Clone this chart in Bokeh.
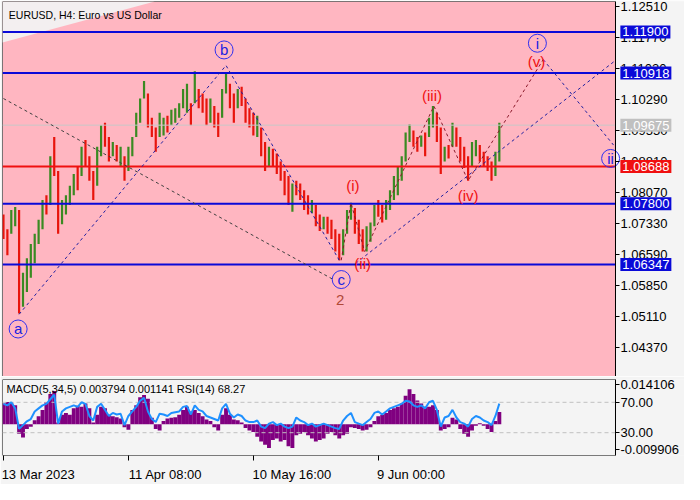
from bokeh.plotting import figure
from bokeh.models import Range1d, FixedTicker, Label, NumeralTickFormatter
from bokeh.layouts import column
from bokeh.embed import file_html
from bokeh.resources import INLINE
from bokeh.core.properties import value

FONT = "Liberation Sans"

# ---------------- data ----------------
title_text = "EURUSD, H4:  Euro vs US Dollar"
ind_text = "MACD(5,34,5) 0.003794 0.001141 RSI(14) 68.27"

# H4 bar index (one sample drawn every 4 bars)
bar_x = list(range(0, 509, 4))

bar_high = [
    1.0754, 1.0719, 1.0765, 1.0772, 1.0765, 1.0615, 1.0650, 1.0684,
    1.0708, 1.0742, 1.0789, 1.0800, 1.0893, 1.0939, 1.0858, 1.0789,
    1.0800, 1.0823, 1.0851, 1.0869, 1.0916, 1.0932, 1.0893, 1.0858,
    1.0916, 1.0967, 1.0973, 1.0939, 1.0927, 1.0920, 1.0916, 1.0893,
    1.0916, 1.0939, 1.0997, 1.1031, 1.1073, 1.1043, 1.0985, 1.0962,
    1.0997, 1.0985, 1.0990, 1.1004, 1.1008, 1.1020, 1.1054, 1.1066,
    1.1020, 1.1096, 1.1054, 1.1043, 1.1031, 1.1031, 1.1013, 1.0997,
    1.1054, 1.1094, 1.1066, 1.1043, 1.1054, 1.1059, 1.1031, 1.1008,
    1.0997, 1.0990, 1.0962, 1.0927, 1.0916, 1.0911, 1.0900, 1.0881,
    1.0858, 1.0846, 1.0828, 1.0835, 1.0828, 1.0812, 1.0800, 1.0789,
    1.0777, 1.0754, 1.0749, 1.0749, 1.0742, 1.0719, 1.0708, 1.0719,
    1.0765, 1.0782, 1.0770, 1.0742, 1.0719, 1.0726, 1.0735, 1.0777,
    1.0789, 1.0777, 1.0789, 1.0812, 1.0846, 1.0869, 1.0893, 1.0950,
    1.0969, 1.0955, 1.0939, 1.0943, 1.0950, 1.0985, 1.1013, 1.0997,
    1.0962, 1.0916, 1.0920, 1.0973, 1.0962, 1.0939, 1.0916, 1.0893,
    1.0927, 1.0932, 1.0920, 1.0904, 1.0893, 1.0881, 1.0904, 1.0973,
]
bar_low = [
    1.0696, 1.0657, 1.0708, 1.0726, 1.0518, 1.0534, 1.0569, 1.0603,
    1.0638, 1.0684, 1.0719, 1.0754, 1.0777, 1.0846, 1.0708, 1.0731,
    1.0754, 1.0777, 1.0800, 1.0812, 1.0846, 1.0869, 1.0835, 1.0789,
    1.0823, 1.0893, 1.0916, 1.0881, 1.0893, 1.0881, 1.0869, 1.0835,
    1.0858, 1.0893, 1.0939, 1.0973, 1.1031, 1.0962, 1.0939, 1.0904,
    1.0939, 1.0943, 1.0950, 1.0967, 1.0973, 1.0985, 1.1008, 1.0997,
    1.0967, 1.1020, 1.1008, 1.0997, 1.0967, 1.0973, 1.0962, 1.0939,
    1.0985, 1.1043, 1.1008, 1.0973, 1.1008, 1.1013, 1.0973, 1.0962,
    1.0943, 1.0939, 1.0893, 1.0858, 1.0869, 1.0869, 1.0851, 1.0835,
    1.0800, 1.0777, 1.0761, 1.0800, 1.0789, 1.0765, 1.0754, 1.0758,
    1.0726, 1.0715, 1.0719, 1.0708, 1.0696, 1.0666, 1.0645, 1.0657,
    1.0708, 1.0742, 1.0708, 1.0684, 1.0666, 1.0666, 1.0689, 1.0726,
    1.0749, 1.0735, 1.0742, 1.0765, 1.0789, 1.0800, 1.0835, 1.0881,
    1.0927, 1.0916, 1.0904, 1.0916, 1.0893, 1.0939, 1.0962, 1.0927,
    1.0851, 1.0881, 1.0888, 1.0916, 1.0916, 1.0881, 1.0865, 1.0835,
    1.0869, 1.0893, 1.0881, 1.0869, 1.0858, 1.0835, 1.0846, 1.0881,
]
bar_up = [
    0, 0, 1, 1, 0, 1, 1, 1,
    1, 1, 1, 0, 1, 0, 0, 1,
    1, 1, 1, 0, 1, 0, 0, 0,
    1, 1, 0, 0, 1, 0, 1, 0,
    1, 1, 1, 1, 1, 0, 0, 0,
    1, 1, 0, 1, 1, 1, 1, 1,
    0, 1, 0, 0, 0, 1, 0, 0,
    1, 1, 0, 0, 1, 0, 0, 0,
    0, 1, 0, 0, 1, 0, 0, 0,
    0, 0, 1, 0, 0, 0, 0, 1,
    0, 0, 1, 0, 0, 0, 0, 1,
    1, 1, 0, 0, 0, 1, 1, 1,
    0, 0, 1, 1, 1, 1, 1, 1,
    1, 0, 0, 1, 0, 1, 1, 0,
    0, 1, 0, 1, 0, 0, 0, 0,
    1, 1, 0, 0, 0, 0, 1, 1,
]

macd_hist = [
    0.0065, 0.0070, 0.0068, 0.0060, -0.0030, -0.0042, -0.0015, -0.0008,
    0.0012, 0.0025, 0.0045, 0.0070, 0.0095, 0.0105, 0.0005, 0.0030,
    0.0035, 0.0030, 0.0050, 0.0058, 0.0055, 0.0065, 0.0050, 0.0005,
    0.0030, 0.0055, 0.0050, 0.0030, 0.0025, 0.0022, 0.0018, -0.0010,
    -0.0018, 0.0045, 0.0060, 0.0085, 0.0092, 0.0080, 0.0020, -0.0015,
    -0.0020, 0.0010, 0.0018, 0.0020, 0.0022, 0.0030, 0.0045, 0.0055,
    0.0040, 0.0045, 0.0035, 0.0025, 0.0015, 0.0010, -0.0010, -0.0020,
    0.0030, 0.0050, 0.0030, 0.0015, 0.0012, 0.0005, -0.0012, -0.0020,
    -0.0025, -0.0040, -0.0055, -0.0065, -0.0075, -0.0050, -0.0045, -0.0055,
    -0.0050, -0.0070, -0.0075, -0.0035, -0.0030, -0.0025, -0.0035, -0.0045,
    -0.0055, -0.0050, -0.0045, -0.0030, -0.0025, -0.0035, -0.0045, -0.0035,
    -0.0030, -0.0010, -0.0012, -0.0015, -0.0020, -0.0018, -0.0010, 0.0010,
    0.0025, 0.0030, 0.0035, 0.0045, 0.0050, 0.0055, 0.0065, 0.0090,
    0.0110, 0.0095, 0.0075, 0.0065, 0.0055, 0.0055, 0.0060, 0.0045,
    -0.0020, -0.0015, -0.0010, 0.0020, 0.0015, -0.0015, -0.0030, -0.0040,
    -0.0020, -0.0005, 0.0003, -0.0005, -0.0015, -0.0025, 0.0010, 0.0038,
]
rsi = [
    68, 66, 70, 62, 35, 40, 45, 48,
    58, 62, 66, 68, 74, 80, 42, 58,
    62, 64, 66, 64, 70, 68, 52, 46,
    64, 68, 60, 52, 56, 54, 55, 40,
    52, 58, 64, 72, 76, 58, 48, 44,
    55, 54, 52, 56, 57, 58, 64, 65,
    54, 66, 60, 58, 52, 50, 48, 46,
    62, 68, 55, 50, 54, 52, 46, 44,
    44, 46, 38, 36, 42, 44, 40, 42,
    38, 36, 38, 50, 46, 44, 40, 42,
    38, 40, 42, 40, 38, 36, 35, 46,
    52, 56, 44, 42, 40, 44, 48, 56,
    58, 54, 58, 62, 64, 66, 68, 72,
    71, 66, 64, 66, 62, 70, 72, 60,
    38, 50, 52, 60, 50, 44, 42, 38,
    48, 52, 50, 46, 44, 40, 52, 68.27,
]

price_ticks = [1.12510, 1.11770, 1.11030, 1.10290, 1.09550, 1.08810,
               1.08070, 1.07330, 1.06590, 1.05850, 1.05110, 1.04370]

level_values = [1.11900, 1.10918, 1.07800, 1.06347]
level_labels = ["1.11900", "1.10918", "1.07800", "1.06347"]
support_value = 1.08688
support_label = "1.08688"
current_value = 1.09675
current_label = "1.09675"

rsi_levels = [70, 30]
ind_tick_pos = [92.8, 70, 30, 8.4]
ind_tick_labels = ["0.014106", "70.00", "30.00", "-0.009906"]

date_tick_bars = [0, 128, 256, 384]
date_tick_labels = ["13 Mar 2023", "11 Apr 08:00", "10 May 16:00", "9 Jun 00:00"]
# label centres (labels are written to the right of their tick)
date_label_pos = [35.5, 166.0, 295.5, 417.5]

# Elliott wave paths (bar index, price)
abc_x = [16, 228, 344]
abc_y = [1.0516, 1.1110, 1.0645]
trend_x = [0, 338]
trend_y = [1.1031, 1.0599]
channel_x = [361, 627]
channel_y = [1.0638, 1.1122]
sub_x = [346, 356, 370, 441, 476, 553]
sub_y = [1.0645, 1.0782, 1.0666, 1.1013, 1.0835, 1.1124]
fore_x = [553, 625]
fore_y = [1.1124, 1.0920]

circ_x = [15, 226, 346, 547, 622]
circ_y = [1.0481, 1.1147, 1.0599, 1.1163, 1.0888]
circ_txt = ["a", "b", "c", "i", "ii"]

sub_lab_x = [358, 368, 439, 476, 546]
sub_lab_y = [1.0823, 1.0638, 1.1038, 1.0800, 1.1119]
sub_lab_txt = ["(i)", "(ii)", "(iii)", "(iv)", "(v)"]

deg_x = [345]
deg_y = [1.0550]
deg_txt = ["2"]

# ---------------- styling ----------------
W = 684
H1 = 376
H2 = 108
X0, X1 = -1, 627          # chart area in bars
XEND = 697.7              # right end incl. price-scale area
P_LO, P_HI = 1.03676, 1.12626
PINK = "#FFB6C1"
BG = "#F4F4F4"
BLUE = "#0A0AD8"
RED = "#F01010"


def style_axis(ax):
    ax.major_label_text_font = FONT
    ax.major_label_text_font_size = "13px"
    ax.major_label_text_color = "black"
    ax.major_tick_out = 4
    ax.major_tick_in = 0
    ax.minor_tick_out = 0
    ax.minor_tick_in = 0
    ax.major_label_standoff = 1
    ax.axis_line_color = "black"


p = figure(width=W, height=H1, output_backend="svg", toolbar_location=None,
           x_range=Range1d(X0, XEND), y_range=Range1d(P_LO, P_HI),
           x_axis_location=None, y_axis_location="right",
           min_border_left=2, min_border_right=0, min_border_top=1, min_border_bottom=0,
           background_fill_color=BG, border_fill_color=BG, outline_line_color=None)
p.grid.visible = False
ya = p.yaxis[0]
ya.fixed_location = X1
ya.ticker = FixedTicker(ticks=price_ticks)
ya.formatter = NumeralTickFormatter(format="0.00000")
style_axis(ya)

# chart area
p.quad(left=[X0], right=[X1], bottom=[P_LO], top=[P_HI], fill_color=PINK,
       line_color="black", line_width=1)
# light corner of the chart background
p.patch([X0, 155, X0], [P_HI, P_HI, 1.1165], fill_color="#F3EFF0", line_color=None)

# price bars
bar_colors = ["#3A8A22" if u else "#E8140C" for u in bar_up]
p.segment(x0=bar_x, y0=bar_low, x1=bar_x, y1=bar_high, line_color=bar_colors, line_width=2.2)

# horizontal levels
p.segment(x0=[X0], x1=[X1], y0=[current_value], y1=[current_value],
          line_color="#C8C8C8", line_width=1)
p.segment(x0=[X0] * len(level_values), x1=[X1] * len(level_values),
          y0=level_values, y1=level_values, line_color=BLUE, line_width=2)
p.segment(x0=[X0], x1=[X1], y0=[support_value], y1=[support_value],
          line_color=RED, line_width=2)

# wave lines
p.line(trend_x, trend_y, line_color="#404040", line_dash="3 3", line_width=1)
p.line(abc_x, abc_y, line_color="#2020A0", line_dash="3 3", line_width=1)
p.line(channel_x, channel_y, line_color="#2020A0", line_dash="3 3", line_width=1)
p.line(sub_x, sub_y, line_color="#8B1A2B", line_dash="3 3", line_width=1)
p.line(fore_x, fore_y, line_color="#2020A0", line_dash="3 3", line_width=1)

# wave labels
p.scatter(circ_x, circ_y, marker="circle", size=18, fill_color=None,
          line_color="#3030F0", line_width=1)
p.text(circ_x, circ_y, text=circ_txt, text_align="center", text_baseline="middle",
       text_font=value(FONT), text_font_size="15px", text_color="#2020E0")
p.text(sub_lab_x, sub_lab_y, text=sub_lab_txt, text_align="center", text_baseline="middle",
       text_font=value(FONT), text_font_size="15px", text_color=RED)
p.text(deg_x, deg_y, text=deg_txt, text_align="center", text_baseline="middle",
       text_font=value(FONT), text_font_size="15px", text_color="#B04838")

p.add_layout(Label(x=5.5, y=1.1230, text=title_text, text_font=FONT, text_font_size="10.5px",
                   text_color="black", text_baseline="middle", text_align="left"))

# price boxes on the axis
for v, t in zip(level_values, level_labels):
    p.add_layout(Label(x=632, y=v, text=t, text_font=FONT, text_font_size="13px",
                       text_color="white", background_fill_color=BLUE,
                       text_baseline="middle", text_align="left", padding=2))
p.add_layout(Label(x=632, y=support_value, text=support_label, text_font=FONT,
                   text_font_size="13px", text_color="white", background_fill_color=RED,
                   text_baseline="middle", text_align="left", padding=2))
p.add_layout(Label(x=632, y=current_value, text=current_label, text_font=FONT,
                   text_font_size="13px", text_color="white", background_fill_color="#C0C0C0",
                   text_baseline="middle", text_align="left", padding=2))

# ---------------- indicator panel ----------------
q = figure(width=W, height=H2, output_backend="svg", toolbar_location=None,
           x_range=p.x_range, y_range=Range1d(0, 100), y_axis_location="right",
           min_border_left=2, min_border_right=0, min_border_top=3, min_border_bottom=24,
           background_fill_color=BG, border_fill_color=BG, outline_line_color=None)
q.grid.visible = False
q.extra_y_ranges = {"macd": Range1d(-0.009906, 0.014106)}

q.quad(left=[X0], right=[X1], bottom=[0], top=[100], fill_color=BG,
       line_color="black", line_width=1)
q.vbar(x=bar_x, top=macd_hist, bottom=0, width=4, y_range_name="macd",
       fill_color="#800080", line_color=None)
q.segment(x0=[X0] * 2, x1=[X1] * 2, y0=rsi_levels, y1=rsi_levels,
          line_color="#C0C0C0", line_dash="4 3", line_width=1)
q.line(bar_x, rsi, line_color="#1E90FF", line_width=2)

qa = q.yaxis[0]
qa.fixed_location = X1
qa.ticker = FixedTicker(ticks=ind_tick_pos)
qa.major_label_overrides = {k: t for k, t in zip(ind_tick_pos, ind_tick_labels)}
style_axis(qa)

xa = q.xaxis[0]
xa.ticker = FixedTicker(ticks=date_label_pos, minor_ticks=date_tick_bars)
xa.major_label_overrides = {k: t for k, t in zip(date_label_pos, date_tick_labels)}
xa.major_label_text_font = FONT
xa.major_label_text_font_size = "13px"
xa.major_label_text_color = "black"
xa.major_tick_out = 0
xa.major_tick_in = 0
xa.minor_tick_out = 5
xa.minor_tick_in = 0
xa.minor_tick_line_color = "black"
xa.major_label_standoff = 6
xa.axis_line_color = None

q.add_layout(Label(x=3, y=88, text=ind_text, text_font=FONT, text_font_size="11px",
                   text_color="black", text_baseline="middle", text_align="left"))

layout = column(p, q, spacing=0)
open("out.html", "w").write(file_html(layout, INLINE))
